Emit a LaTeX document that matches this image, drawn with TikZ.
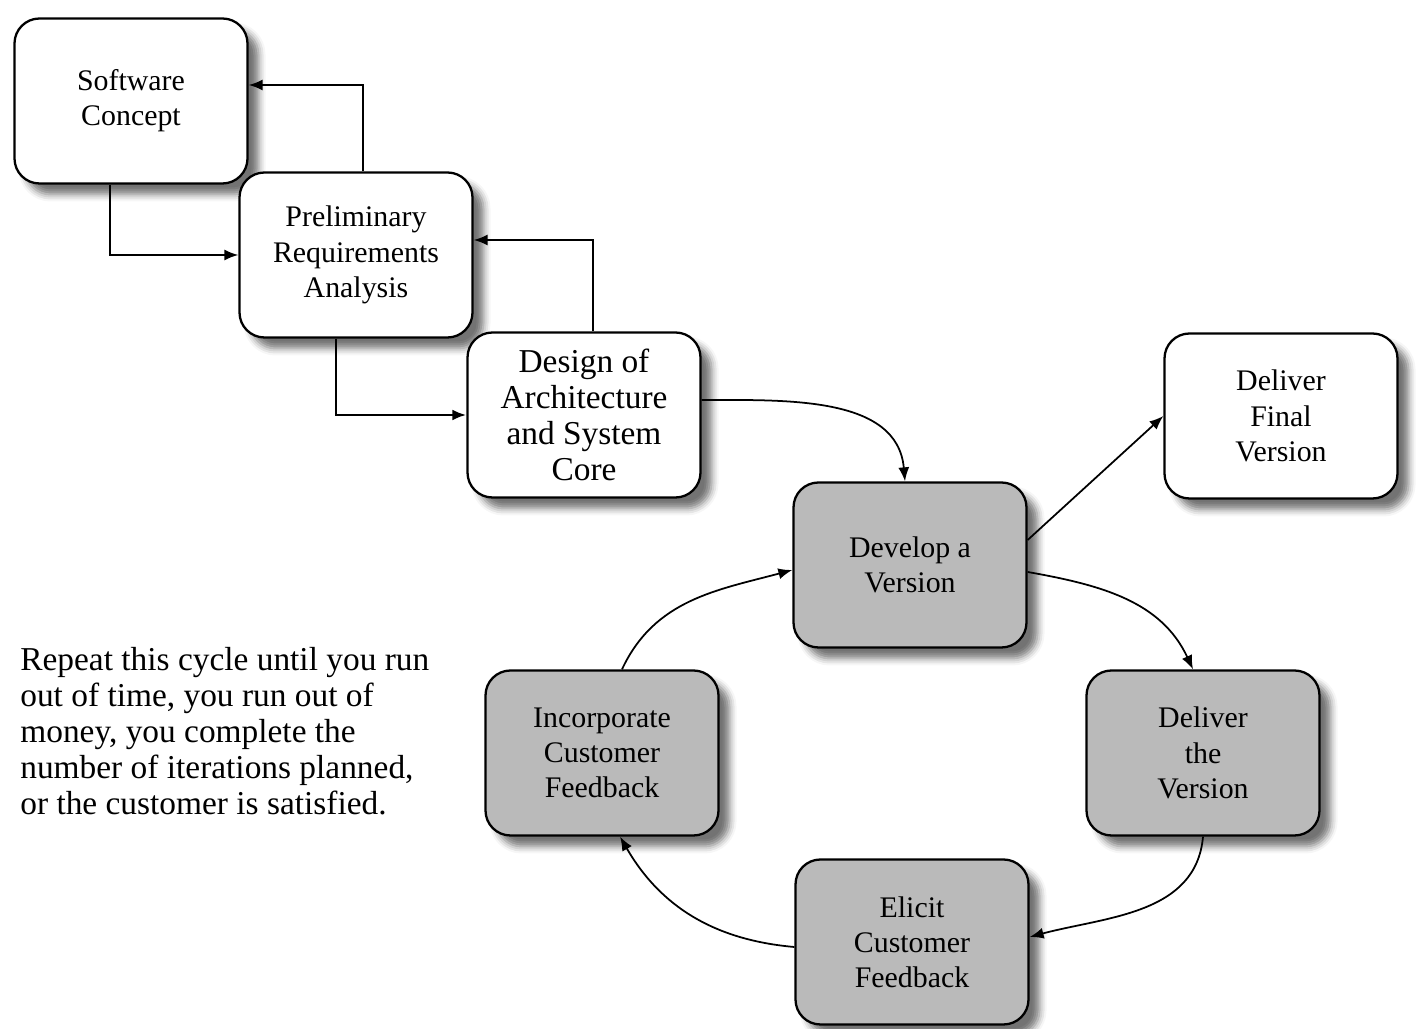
\documentclass[tikz,border=0pt]{standalone}
\usepackage{fontspec}
\setmainfont{Liberation Serif}
\usepackage{tikz}
\usetikzlibrary{arrows,arrows.meta,positioning,shadows.blur}

\definecolor{cyclegray}{RGB}{186,186,186}

\tikzset{
  box/.style={draw,line width=1.3pt,rounded corners=5mm,fill=white,
    minimum width=46.6mm,minimum height=33mm,align=center,
    blur shadow={shadow xshift=2.2mm,shadow yshift=-2.2mm,shadow blur radius=1.4mm,shadow opacity=55}},
  cyclebox/.style={box,fill=cyclegray},
  bigtext/.style={font=\fontsize{19}{20.5}\selectfont},
  link/.style={line width=1pt,-{Latex[length=2.8mm,width=2.2mm]}}
}

\begin{document}
\begin{tikzpicture}[x=0.2mm,y=0.2mm,font=\fontsize{17}{20}\selectfont]
  \useasboundingbox (0,0) rectangle (1426,1029);

  \node[box] (concept) at (131,928) {Software\\Concept};
  \node[box] (prelim) at (356,774) {Preliminary\\Requirements\\Analysis};
  \node[box,bigtext] (design) at (584,614) {Design of\\Architecture\\and System\\Core};
  \node[cyclebox] (develop) at (910,464) {Develop a\\Version};
  \node[box] (final) at (1281,613) {Deliver\\Final\\Version};
  \node[cyclebox] (deliver) at (1203,276) {Deliver\\the\\Version};
  \node[cyclebox] (elicit) at (912,87) {Elicit\\Customer\\Feedback};
  \node[cyclebox] (incorp) at (602,276) {Incorporate\\Customer\\Feedback};

  \node[bigtext,anchor=north west,inner sep=0pt,align=left] (note) at (20,382)
    {Repeat this cycle until you run\\out of time, you run out of\\money, you complete the\\number of iterations planned,\\or the customer is satisfied.};

  % staged front end
  \draw[link] ([xshift=-4.2mm]concept.south) |- (prelim.west);
  \draw[link] ([xshift=1.4mm]prelim.north) |- ([yshift=3.2mm]concept.east);
  \draw[link,line width=1.6pt] ([xshift=-4mm]prelim.south) |- (design.west);
  \draw[link] ([xshift=1.8mm]design.north) |- ([yshift=3mm]prelim.east);

  % iteration cycle
  \draw[link] ([yshift=3mm]design.east) to[out=0,in=95] ([xshift=-1mm]develop.north);
  \draw[link] ([yshift=5mm]develop.east) -- (final.west);
  \draw[link] ([yshift=-1.4mm]develop.east) to[out=-10,in=115] ([xshift=-2mm]deliver.north);
  \draw[link] (deliver.south) to[out=-95,in=15] ([yshift=1mm]elicit.east);
  \draw[link] ([yshift=-1mm]elicit.west) to[out=175,in=-60] ([xshift=3.6mm]incorp.south);
  \draw[link] ([xshift=4mm]incorp.north) to[out=65,in=195] ([yshift=-1mm]develop.west);
\end{tikzpicture}
\end{document}
